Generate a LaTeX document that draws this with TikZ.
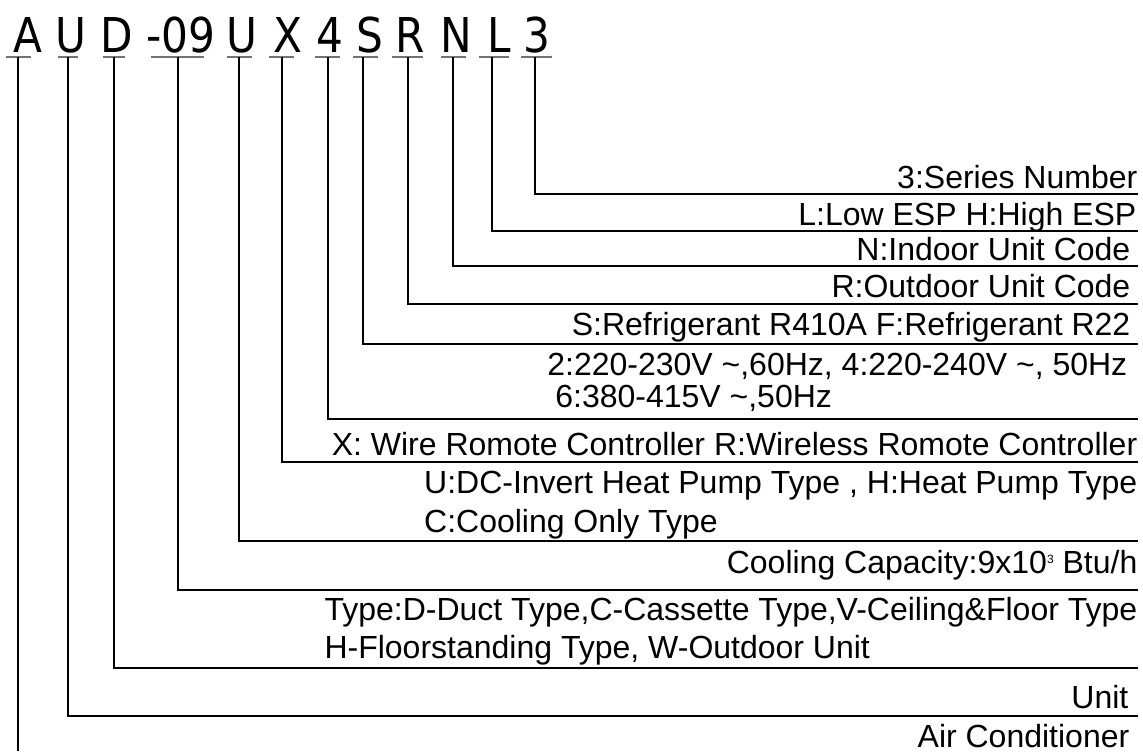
\documentclass[tikz,border=0pt]{standalone}
\usepackage{fontspec}
\setmainfont{Liberation Sans}
\newfontfamily\codefont[FakeStretch=0.88]{DejaVu Sans}

\begin{document}
\begin{tikzpicture}[x=0.5pt, y=-0.5pt, line width=0.7pt,
  code/.style={font=\codefont\fontsize{24}{24}\selectfont, anchor=base, inner sep=0pt},
  lab/.style={font=\fontsize{16}{16}\selectfont, inner sep=0pt},
  uline/.style={black!55}]
  \useasboundingbox (0,0) rectangle (1143,751);
  % model code, one letter group per field, with its short underline
  \foreach \id/\ch/\xc/\xl/\xr/\xv in {air/A/27.5/6/31/18, unit/U/71/58/78/68,
      type/D/117/103/125/114, cap/-09/181/151/204/178, pump/U/242/227/252/239,
      ctrl/X/288/269/294/282, volt/4/329.5/315/340/328, refr/S/369.5/353/378/363,
      odu/R/410/392/423/408, idu/N/456.5/441/466/453, esp/L/499.5/479/509/492,
      ser/3/537/521/552/535}{
    \node[code] (c\id) at (\xc,52) {\ch};
    \draw[uline] (\xl,57) -- (\xr,57);
    \coordinate (u\id) at (\xv,57);
  }
  % legs down to the field descriptions
  \foreach \id/\y in {ser/194, esp/231, idu/266, odu/304, refr/344, volt/419,
      ctrl/462, pump/541, cap/590, type/668, unit/716}{
    \coordinate (e\id) at (1138,\y);
    \draw (u\id) |- (e\id);
  }
  \coordinate (eair) at (18,751);
  \draw (uair) -- (eair);
  % descriptions
  \node[lab, anchor=base east] (lser) at (1138,188) {3:Series Number};
  \node[lab, anchor=base east] (lesp) at (1137,225) {L:Low ESP H:High ESP};
  \node[lab, anchor=base east] (lidu) at (1131,260) {N:Indoor Unit Code};
  \node[lab, anchor=base east] (lodu) at (1131,297) {R:Outdoor Unit Code};
  \node[lab, anchor=base east] (lrefr) at (1131,335) {S:Refrigerant R410A F:Refrigerant R22};
  \node[lab, anchor=base east] (lvolt) at (1128,375)
    {2:220-230V \textasciitilde,60Hz, 4:220-240V \textasciitilde, 50Hz};
  \node[lab, anchor=base west] (lvolt2) at ([xshift=4pt,yshift=-16pt]lvolt.base west)
    {6:380-415V \textasciitilde,50Hz};
  \node[lab, anchor=base east] (lctrl) at (1138,455)
    {X: Wire Romote Controller R:Wireless Romote Controller};
  \node[lab, anchor=base east] (lpump) at (1138,493)
    {U:DC-Invert Heat Pump Type , H:Heat Pump Type};
  \node[lab, anchor=base west] (lpump2) at ([yshift=-19.5pt]lpump.base west)
    {C:Cooling Only Type};
  \node[lab, anchor=base east] (lcap) at (1138,573)
    {Cooling Capacity:9x10\raisebox{5pt}{\fontsize{6}{6}\selectfont 3} Btu/h};
  \node[lab, anchor=base east] (ltype) at (1138,620)
    {Type:D-Duct Type,C-Cassette Type,V-Ceiling\&Floor Type};
  \node[lab, anchor=base west] (ltype2) at ([yshift=-19pt]ltype.base west)
    {H-Floorstanding Type, W-Outdoor Unit};
  \node[lab, anchor=base east] (lunit) at (1129,708) {Unit};
  \node[lab, anchor=base east] (lair) at (1130,747) {Air Conditioner};
\end{tikzpicture}
\end{document}
